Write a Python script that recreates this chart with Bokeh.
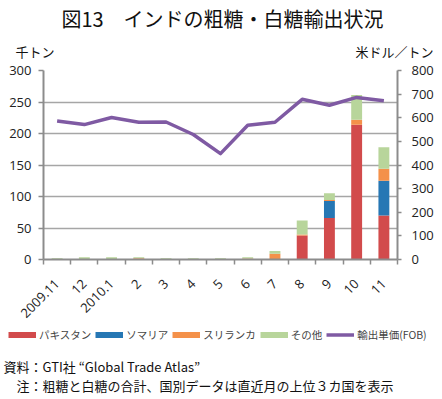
import math
from bokeh.plotting import figure
from bokeh.layouts import column
from bokeh.models import (Range1d, LinearAxis, FixedTicker, Label, Legend,
                          LegendItem, ColumnDataSource)
from bokeh.embed import file_html
from bokeh.resources import INLINE

# ---- data ----
months = ["2009.11", "12", "2010.1", "2", "3", "4", "5", "6", "7", "8", "9", "10", "11"]
pakistan = [0, 0, 0, 0, 0, 0, 0, 0, 0, 38, 66, 214, 70]
somalia = [0, 0, 0, 0, 0, 0, 0, 0, 0, 0, 27, 0, 55]
srilanka = [0, 0, 0, 2, 0, 0, 0.8, 1.5, 9, 1.5, 1.5, 8, 19]
other = [2, 3.5, 3.5, 1.7, 2, 2, 1.2, 2.2, 4.5, 22.5, 10.5, 39, 34]
price = [586, 571, 601, 581, 582, 529, 448, 568, 581, 678, 653, 686, 672]
left_ticks = [0, 50, 100, 150, 200, 250, 300]
right_ticks = [0, 100, 200, 300, 400, 500, 600, 700, 800]
series_names = ["パキスタン", "ソマリア", "スリランカ", "その他"]
line_name = "輸出単価(FOB)"

colors = ["#d24b4c", "#2677b4", "#f4914a", "#b8d59b"]
purple = "#7f5aa3"
gray = "#8c8c8c"
JP = "Noto Sans CJK JP"
NUM = "Open Sans"

W = 442
H_TOP, H_MAIN, H_BOT = 62, 262, 75
n = len(months)
xs = [i + 0.5 for i in range(n)]


def blank(h):
    f = figure(width=W, height=h, output_backend="svg", toolbar_location=None,
               x_range=Range1d(0, W), y_range=Range1d(h, 0),
               x_axis_type=None, y_axis_type=None, min_border=0,
               frame_align=False)
    f.outline_line_color = None
    f.background_fill_color = "white"
    f.border_fill_color = "white"
    f.grid.visible = False
    return f


def lab(f, text, x, y, size, align="left"):
    f.add_layout(Label(x=x, y=y, text=text, text_font=JP, text_font_size=size,
                       text_align=align, text_baseline="middle",
                       text_color="#111111"))


# ---- top: title and unit labels ----
top = blank(H_TOP)
lab(top, "図13　インドの粗糖・白糖輸出状況", 222, 18, "20px", "center")
lab(top, "千トン", 15, 51, "13px")
lab(top, "米ドル／トン", 433, 51, "13px", "right")

# ---- main chart ----
src = ColumnDataSource(dict(x=xs, pakistan=pakistan, somalia=somalia,
                            srilanka=srilanka, other=other, price=price))

p = figure(width=W, height=H_MAIN, output_backend="svg", toolbar_location=None,
           x_range=Range1d(0, n), y_range=Range1d(0, 300),
           min_border_left=43, min_border_right=45, min_border_top=8,
           min_border_bottom=64, frame_align=False)
p.outline_line_color = None
p.background_fill_color = "white"
p.border_fill_color = "white"
p.extra_y_ranges = {"price": Range1d(0, 800)}

bars = p.vbar_stack(["pakistan", "somalia", "srilanka", "other"], x="x",
                    width=0.4, source=src, color=colors, line_color=None)
line = p.line("x", "price", source=src, y_range_name="price",
              line_width=3.5, color=purple, line_join="round")

xa = p.xaxis[0]
xa.ticker = FixedTicker(ticks=xs, minor_ticks=list(range(n + 1)))
xa.major_label_overrides = {x: m for x, m in zip(xs, months)}
xa.major_tick_out = 0
xa.major_tick_in = 0
xa.minor_tick_out = 5
xa.minor_tick_in = 0
xa.minor_tick_line_color = gray
xa.minor_tick_line_width = 1.5
xa.axis_line_color = gray
xa.axis_line_width = 2
xa.major_label_orientation = math.pi / 4
xa.major_label_text_font = NUM
xa.major_label_text_font_size = "13px"
xa.major_label_text_color = "#222222"
xa.major_label_standoff = 17

ya = p.yaxis[0]
ya.ticker = FixedTicker(ticks=left_ticks)
ya.major_tick_out = 5
ya.major_tick_in = 0
ya.minor_tick_out = 0
ya.minor_tick_in = 0
ya.major_tick_line_color = gray
ya.major_tick_line_width = 1.5
ya.axis_line_color = gray
ya.axis_line_width = 2
ya.major_label_text_font = NUM
ya.major_label_text_font_size = "13px"
ya.major_label_text_color = "#222222"
ya.major_label_standoff = 7

ra = LinearAxis(y_range_name="price", ticker=FixedTicker(ticks=right_ticks))
ra.major_tick_out = 4
ra.major_tick_in = 0
ra.minor_tick_out = 0
ra.minor_tick_in = 0
ra.major_tick_line_color = gray
ra.major_tick_line_width = 1.5
ra.axis_line_color = gray
ra.axis_line_width = 2
ra.major_label_text_font = NUM
ra.major_label_text_font_size = "13px"
ra.major_label_text_color = "#222222"
ra.major_label_standoff = 10
p.add_layout(ra, "right")

p.xgrid.visible = False
p.ygrid.ticker = FixedTicker(ticks=left_ticks)
p.ygrid.grid_line_color = "#a6a6a6"
p.ygrid.grid_line_width = 1.5

# ---- bottom: legend and notes ----
bot = blank(H_BOT)
# legend swatch renderers: one row each, placed off the visible range
swatch_src = ColumnDataSource(dict(x=[-1000, -999], y=[1, 1]))
swatches = [bot.line(x="x", y="y", source=swatch_src, line_width=6, color=c,
                     line_cap="butt") for c in colors]
sw_line = bot.line(x="x", y="y", source=swatch_src, line_width=3.5, color=purple,
                   line_cap="butt")
items = [LegendItem(label=nm, renderers=[r]) for nm, r in zip(series_names, swatches)]
items.append(LegendItem(label=line_name, renderers=[sw_line]))
legend = Legend(items=items, orientation="horizontal", location=(8, 57),
                glyph_width=28, glyph_height=7, label_height=12,
                label_standoff=3, spacing=4, padding=0, margin=0,
                label_text_font=JP, label_text_font_size="10.5px",
                border_line_color=None, background_fill_alpha=0)
bot.add_layout(legend)
lab(bot, "資料：GTI社 “Global Trade Atlas”", 3, 42, "13px")
lab(bot, "注：粗糖と白糖の合計、国別データは直近月の上位３カ国を表示", 16, 61, "13px")

layout = column(top, p, bot, spacing=0)
open("out.html", "w").write(file_html(layout, INLINE))
